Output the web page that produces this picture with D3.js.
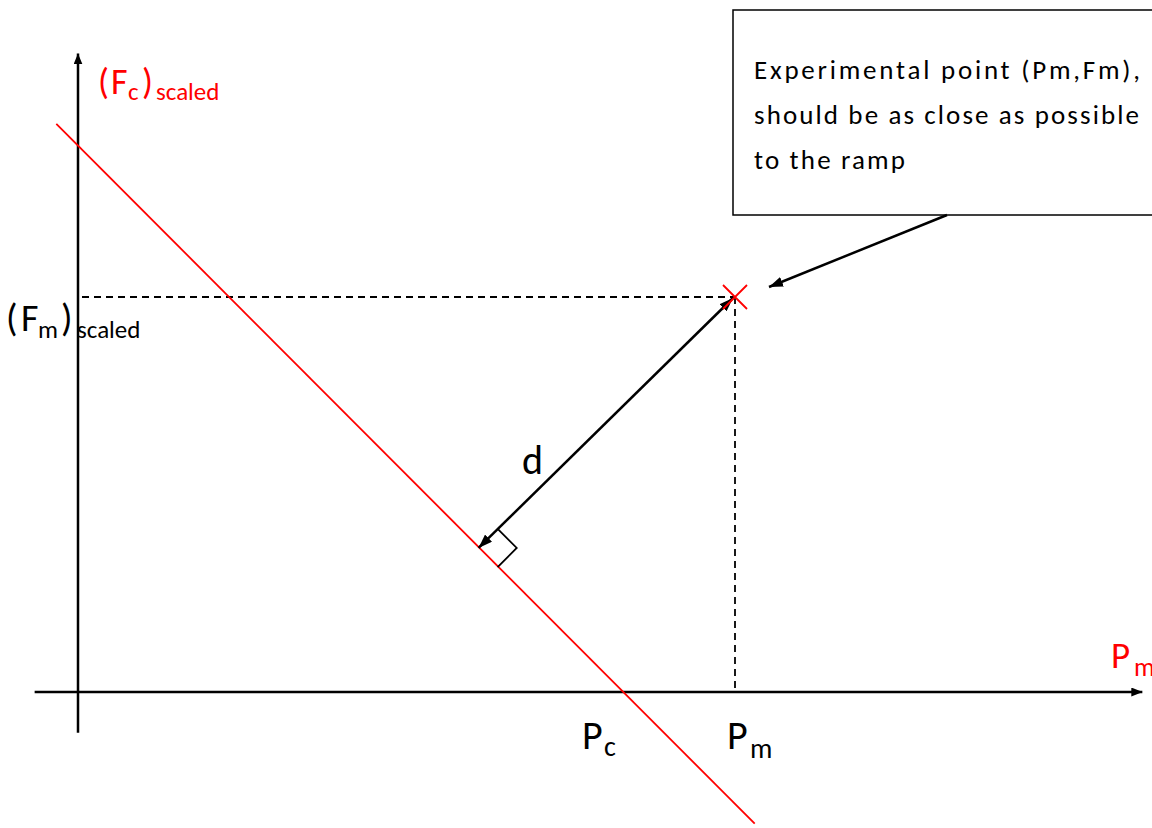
<!DOCTYPE html>
<html>
<head>
<meta charset="utf-8">
<script src="https://cdn.jsdelivr.net/npm/d3@7"></script>
<style>
  body { margin: 0; background: #fff; }
  svg { display: block; font-family: Carlito, Calibri, Lato, "Noto Sans", sans-serif; }
</style>
</head>
<body>
<script>
// diagram values, in scaled units (P along x, F along y)
const axisP = [-0.66, 16.2];          // extent of the horizontal axis
const axisF = [-0.62, 9.7];           // extent of the vertical axis
const rampP = [-0.33, 10.3];          // the red ramp, two ends
const rampF = [8.63, -2.0];
const Pc = 8.3;                        // ramp crosses F = 0
const pointP = [10];                   // experimental point
const pointF = [6];
const noteLines = ["Experimental  point  (Pm,Fm),", "should be as close as possible", "to the ramp"];

const width = 1152;
const height = 828;

const x = d3.scaleLinear().domain([0, 10]).range([78, 735]);
const y = d3.scaleLinear().domain([0, 6]).range([692, 297]);

const svg = d3.select("body").append("svg")
    .attr("width", width)
    .attr("height", height);

// arrow heads
const defs = svg.append("defs");
function addMarker(id, len, wid) {
    defs.append("marker")
        .attr("id", id)
        .attr("viewBox", `0 0 ${len} ${wid}`)
        .attr("refX", len)
        .attr("refY", wid / 2)
        .attr("markerWidth", len)
        .attr("markerHeight", wid)
        .attr("markerUnits", "userSpaceOnUse")
        .attr("orient", "auto-start-reverse")
        .append("path")
        .attr("d", `M0,0L${len},${wid / 2}L0,${wid}Z`)
        .attr("fill", "#000");
}
addMarker("axisHead", 11, 9);
addMarker("arrowHead", 14, 10);

// axes
svg.append("line")
    .attr("x1", x(axisP[0])).attr("y1", y(0))
    .attr("x2", x(axisP[1])).attr("y2", y(0))
    .attr("stroke", "#000").attr("stroke-width", 2.5)
    .attr("marker-end", "url(#axisHead)");

svg.append("line")
    .attr("x1", x(0)).attr("y1", y(axisF[0]))
    .attr("x2", x(0)).attr("y2", y(axisF[1]))
    .attr("stroke", "#000").attr("stroke-width", 2.5)
    .attr("marker-end", "url(#axisHead)");

// dashed guides to the experimental point
const px = x(pointP[0]), py = y(pointF[0]);
svg.append("line")
    .attr("x1", x(0) + 4).attr("y1", py)
    .attr("x2", px).attr("y2", py)
    .attr("stroke", "#000").attr("stroke-width", 1.8)
    .attr("stroke-dasharray", "7,5");
svg.append("line")
    .attr("x1", px).attr("y1", py)
    .attr("x2", px).attr("y2", y(0))
    .attr("stroke", "#000").attr("stroke-width", 1.8)
    .attr("stroke-dasharray", "7,5");

// the ramp
svg.append("line")
    .attr("x1", x(rampP[0])).attr("y1", y(rampF[0]))
    .attr("x2", x(rampP[1])).attr("y2", y(rampF[1]))
    .attr("stroke", "red").attr("stroke-width", 1.8);

// foot of the perpendicular from the point to the ramp (in pixels)
const ax = x(rampP[0]), ay = y(rampF[0]);
const bx = x(rampP[1]), by = y(rampF[1]);
const len = Math.hypot(bx - ax, by - ay);
const ux = (bx - ax) / len, uy = (by - ay) / len;
const t = (px - ax) * ux + (py - ay) * uy;
const fx = ax + t * ux - 3, fy = ay + t * uy - 2;

// distance arrow d
svg.append("line")
    .attr("x1", fx).attr("y1", fy)
    .attr("x2", px - 2).attr("y2", py + 1)
    .attr("stroke", "#000").attr("stroke-width", 2.5)
    .attr("marker-start", "url(#arrowHead)")
    .attr("marker-end", "url(#arrowHead)");

// right angle mark
const s = 27;
const nx = uy, ny = -ux; // normal pointing up-right
svg.append("path")
    .attr("d", `M${fx + nx * s},${fy + ny * s}L${fx + nx * s + ux * s},${fy + ny * s + uy * s}L${fx + ux * s},${fy + uy * s}`)
    .attr("fill", "none")
    .attr("stroke", "#000").attr("stroke-width", 1.8);

// red cross for the experimental point
const c = 12;
svg.append("path")
    .attr("d", `M${px - c},${py - c}L${px + c},${py + c}M${px - c},${py + c}L${px + c},${py - c}`)
    .attr("stroke", "red").attr("stroke-width", 1.8);

// note box
svg.append("rect")
    .attr("x", 733).attr("y", 10)
    .attr("width", 440).attr("height", 205)
    .attr("fill", "#fff")
    .attr("stroke", "#000").attr("stroke-width", 1.5);

const noteLengths = [386, 385, 151];
noteLines.forEach((line, i) => {
    svg.append("text")
        .attr("x", 754)
        .attr("y", 79 + i * 45)
        .attr("font-size", 27)
        .attr("fill", "#000")
        .attr("textLength", noteLengths[i])
        .attr("lengthAdjust", "spacing")
        .text(line);
});

// pointer arrow from the note to the point
svg.append("line")
    .attr("x1", 947).attr("y1", 215)
    .attr("x2", 769).attr("y2", 287)
    .attr("stroke", "#000").attr("stroke-width", 2.5)
    .attr("marker-end", "url(#arrowHead)");

// labels built from pieces: [text, x, baseline, size]
function label(parts, color) {
    const g = svg.append("text").attr("fill", color);
    parts.forEach(p => {
        g.append("tspan")
            .attr("x", p[1])
            .attr("y", p[2])
            .attr("font-size", p[3])
            .text(p[0]);
    });
}

label([["(", 98, 94, 36], ["F", 111, 94, 36], ["c", 128, 100, 25], [")", 142, 94, 36], ["scaled", 156, 100, 25]], "red");
label([["(", 6, 331, 38], ["F", 21, 331, 38], ["m", 38, 338, 25], [")", 61, 331, 38], ["scaled", 77, 338, 25]], "#000");
label([["P", 582, 749, 40], ["c", 604, 756, 28], ], "#000");
label([["P", 727, 749, 40], ["m", 750, 758, 28]], "#000");
label([["P", 1111, 668, 37], ["m", 1134, 676, 26]], "red");
label([["d", 522, 474, 40]], "#000");
</script>
</body>
</html>
